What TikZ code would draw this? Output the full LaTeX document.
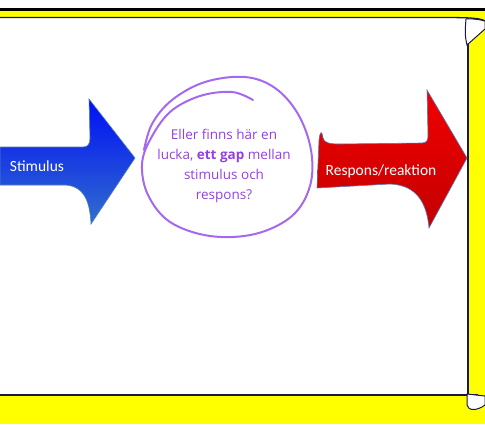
\documentclass[tikz,border=0pt]{standalone}
\usepackage{fontspec}
\setmainfont{Carlito}
\newfontfamily\bubblefont{Open Sans}
\usetikzlibrary{positioning}
\usepackage{xcolor}
\definecolor{scrollyellow}{RGB}{255,255,0}
\definecolor{scrollline}{RGB}{25,25,70}
\definecolor{gappurple}{RGB}{165,105,240}
\definecolor{gaptext}{RGB}{145,65,228}
\definecolor{arrowedge}{RGB}{85,125,185}

\begin{document}
\begin{tikzpicture}
[x=1pt, y=-1pt,
% The scroll style is used for the edges of the paper
scroll/.style={draw=scrollline, line width=1.3pt},
% The bigarrow style is used for the two block arrows
bigarrow/.style={draw=arrowedge, line width=0.6pt},
% The arrowtext style is used for the white text on the arrows
arrowtext/.style={inner sep=0pt, text=white, font=\fontsize{15.5}{18}\selectfont},
% The gap style is used for the text in the hand drawn circle
gap/.style={inner sep=0pt, align=center, text=gaptext, font=\bubblefont\fontsize{13.5}{20}\selectfont}
]
\useasboundingbox (0,0) rectangle (485,424);
% Draw paper and scroll
\fill[white] (0,0) rectangle (485,424);
\fill[scrollyellow] (0,11) rectangle (485,17);
\fill[scrollyellow] (468,17) rectangle (485,395);
\fill[scrollyellow] (0,395) rectangle (485,424);
\draw[black, line width=3pt] (0,9.5) -- (485,9.5);
\draw[scroll] (0,17.5) -- (440,17.5) .. controls (470,17.5) and (480,18) .. (485,21);
\draw[scroll] (468,20) -- (468,395);
\draw[scroll, line width=1.6pt] (0,395) -- (478,395);
\filldraw[scroll, fill=white, line width=1pt] (466,19) .. controls (465,30) and (465,38) .. (467,45) -- (485,29) -- (485,21) .. controls (478,19) and (470,18.5) .. (466,19);
\filldraw[scroll, fill=white, line width=1pt] (467,394) -- (467,405) .. controls (468,411) and (477,411) .. (485,405) -- (485,396) -- cycle;

% Draw arrows
\draw[bigarrow, top color={rgb,255:red,0;green,15;blue,245}, bottom color={rgb,255:red,50;green,110;blue,205}]
  (0,147) -- (83,147) .. controls (88,147) and (90,144) .. (90,138) -- (89,99)
  -- (135,158) -- (91,224) .. controls (90,205) and (86,186) .. (65,185) -- (0,185) -- cycle;
\node[arrowtext] (stimulus) at (37,166) {Stimulus};

\draw[bigarrow, top color={rgb,255:red,242;green,0;blue,0}, bottom color={rgb,255:red,195;green,0;blue,0}]
  (317,188) -- (319,140) .. controls (320,131) and (322,130) .. (323,138) .. controls (324,143) and (330,144) .. (340,144)
  -- (422,143) .. controls (427,143) and (428,140) .. (428,135) -- (427,90)
  -- (467,158) -- (429,228) .. controls (427,205) and (418,185) .. (390,184) -- cycle;
\node[arrowtext] (respons) at (381,171) {Respons/reaktion};

% Draw the gap
\draw[gappurple, line width=2pt, line cap=round] plot[smooth, tension=0.6] coordinates {
  (253,100) (232,92) (200,96) (170,112) (150,140) (142,165) (148,195) (170,222)
  (210,236) (255,234) (292,216) (310,186) (311,150) (298,114) (275,88) (245,77)
  (205,82) (172,100) (152,124) (144,150)};
\node[gap] (gap) at (224,166) {Eller finns här en\\lucka, \textbf{ett gap} mellan\\stimulus och\\respons?};
\end{tikzpicture}
\end{document}
